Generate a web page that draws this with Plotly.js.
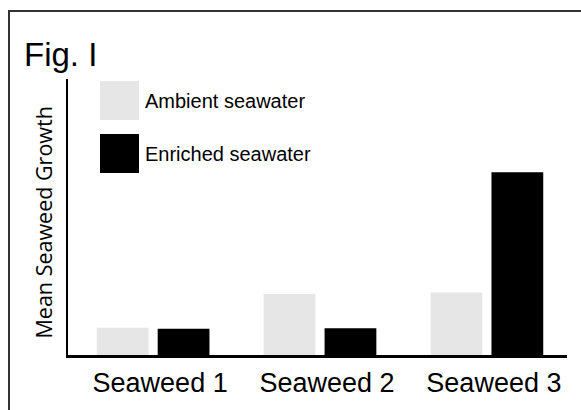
<!DOCTYPE html>
<html>
<head>
<meta charset="utf-8">
<script src="https://cdn.plot.ly/plotly-3.0.1.min.js"></script>
<style>
  html, body { margin: 0; padding: 0; background: #fff; }
  #chart { width: 581px; height: 410px; }
</style>
</head>
<body>
<div id="chart"></div>
<script>
// ---- data ----
var categories = ['Seaweed 1', 'Seaweed 2', 'Seaweed 3'];
var seriesNames = ['Ambient seawater', 'Enriched seawater'];
var ambientValues = [0.99, 2.21, 2.26];
var enrichedValues = [0.95, 0.97, 6.62];
var figTitle = 'Fig. I';
var yTitle = 'Mean Seaweed Growth';
var seriesColors = ['#e6e6e6', '#000000'];

// ---- layout geometry (pixels) ----
var W = 581, H = 410;
var mL = 68, mR = 14, mT = 79, mB = 55;
var pw = W - mL - mR, ph = H - mT - mB;
function px(x) { return (x - mL) / pw; }
function py(y) { return (H - mB - y) / ph; }

var traces = [
  { type: 'bar', x: categories, y: ambientValues, name: seriesNames[0],
    marker: { color: seriesColors[0], line: { width: 0 } }, showlegend: false },
  { type: 'bar', x: categories, y: enrichedValues, name: seriesNames[1],
    marker: { color: seriesColors[1], line: { width: 0 } }, showlegend: false }
];

var fontArial = 'Liberation Sans, Arial, sans-serif';

var shapes = [
  // figure frame (top and left edges visible, continues past image)
  { type: 'rect', xref: 'paper', yref: 'paper',
    x0: px(9), x1: px(600), y0: py(430), y1: py(11),
    line: { color: '#333333', width: 2 }, fillcolor: 'rgba(0,0,0,0)', layer: 'below' },
  // legend swatches
  { type: 'rect', xref: 'paper', yref: 'paper',
    x0: px(100), x1: px(139), y0: py(120), y1: py(81),
    line: { width: 0 }, fillcolor: seriesColors[0] },
  { type: 'rect', xref: 'paper', yref: 'paper',
    x0: px(100), x1: px(139), y0: py(173), y1: py(134),
    line: { width: 0 }, fillcolor: seriesColors[1] }
];

var annotations = [
  { xref: 'paper', yref: 'paper', x: px(143), y: py(101), xanchor: 'left', yanchor: 'middle',
    text: seriesNames[0], showarrow: false, font: { family: fontArial, size: 20, color: '#000' } },
  { xref: 'paper', yref: 'paper', x: px(143), y: py(154), xanchor: 'left', yanchor: 'middle',
    text: seriesNames[1], showarrow: false, font: { family: fontArial, size: 20, color: '#000' } },
  // y-axis title
  { xref: 'paper', yref: 'paper', x: px(42.5), y: py(223), xanchor: 'center', yanchor: 'middle',
    textangle: -90, text: yTitle, showarrow: false,
    font: { family: 'Open Sans, Noto Sans, sans-serif', size: 21.5, color: '#000' } }
];

var layout = {
  width: W, height: H,
  margin: { l: mL, r: mR, t: mT, b: mB, pad: 0 },
  paper_bgcolor: '#ffffff', plot_bgcolor: '#ffffff',
  barmode: 'group', bargap: 0.27, bargroupgap: 0.15,
  showlegend: false,
  title: { text: figTitle, xref: 'container', yref: 'container',
    x: 24 / W, xanchor: 'left', y: 1 - 54 / H, yanchor: 'middle',
    font: { family: fontArial, size: 33, color: '#000' } },
  xaxis: {
    range: [-0.51, 2.48], showgrid: false, zeroline: false,
    showline: true, linecolor: '#000', linewidth: 2.5,
    ticks: '', ticklabelshift: 7, ticklabelstandoff: 2,
    tickfont: { family: fontArial, size: 27, color: '#000' },
    fixedrange: true
  },
  yaxis: {
    range: [0, 10], showgrid: false, zeroline: false,
    showline: true, linecolor: '#000', linewidth: 2,
    ticks: '', showticklabels: false,
    automargin: false, fixedrange: true
  },
  shapes: shapes,
  annotations: annotations
};

Plotly.newPlot('chart', traces, layout, { displayModeBar: false, staticPlot: true });
</script>
</body>
</html>
